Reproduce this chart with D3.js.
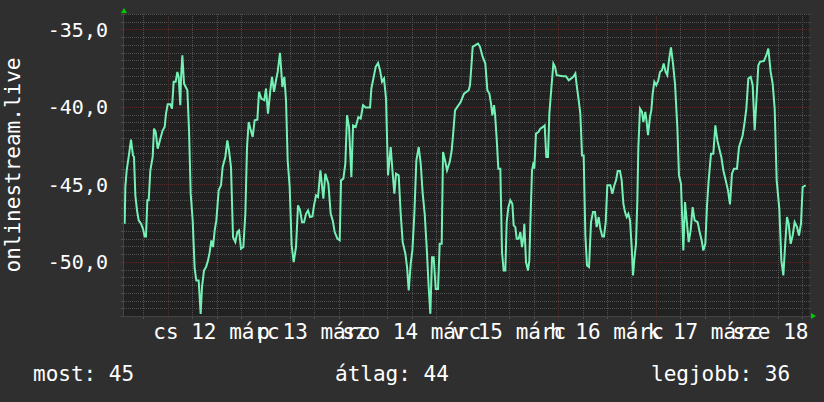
<!DOCTYPE html>
<html><head><meta charset="utf-8">
<script src="https://cdn.jsdelivr.net/npm/d3@7"></script>
<style>html,body{margin:0;padding:0;background:#2f2f2f;overflow:hidden}</style>
</head><body>
<script>
// hours relative to 2020-03-12 00:00 and values
const hours = [
-10.58,-10.42,-10.09,-9.60,-9.03,-8.54,-8.29,-7.96,-7.55,-7.14,-6.57,-6.08,-5.67,-5.34,-5.01,-4.68,-4.27,-3.70,-3.37,-2.96,-2.47,-2.22,-1.81,-1.24,-0.75,-0.42,-0.01,0.65,1.05,1.46,1.96,2.37,2.69,3.10,3.27,3.60,4.01,4.42,4.83,5.24,5.65,6.14,6.63,7.04,7.61,8.10,8.43,8.92,9.42,9.91,10.32,10.73,11.14,11.55,11.96,12.53,13.10,13.51,14.17,14.66,15.07,15.56,16.06,16.63,17.12,17.53,18.02,18.60,19.09,19.50,19.91,20.32,20.89,21.38,22.04,22.45,23.02,23.76,24.17,24.66,25.24,25.65,26.14,26.63,27.04,27.61,27.94,28.19,28.68,29.09,29.50,29.99,30.48,30.97,
31.55,32.04,32.54,33.03,33.52,34.01,34.50,34.99,35.57,35.98,36.47,36.96,37.54,38.27,38.76,39.50,40.08,40.57,41.06,41.72,42.29,42.62,43.19,43.68,44.09,44.58,45.16,45.57,46.22,46.88,47.45,48.03,48.68,49.75,50.08,50.57,51.14,51.72,52.21,52.70,53.19,53.68,54.17,54.83,55.32,55.73,56.14,56.80,57.29,57.78,58.44,58.85,59.26,59.75,60.16,60.65,61.14,61.72,62.21,62.70,63.19,63.68,64.17,64.58,64.99,65.40,65.90,66.47,66.88,67.37,67.70,68.19,68.68,69.34,69.83,70.16,70.65,71.22,72.04,72.86,
74.00,74.33,74.66,74.99,75.65,76.30,76.79,77.45,78.10,78.60,79.09,79.50,79.83,80.24,80.48,80.89,81.30,81.79,82.20,82.61,83.02,83.35,83.76,84.25,84.74,85.07,85.48,85.81,86.30,86.71,87.12,87.53,87.69,88.10,88.60,88.92,89.17,89.58,89.99,90.15,90.56,91.14,91.63,92.28,92.69,93.10,93.51,93.84,94.33,94.83,95.24,95.65,97.12,97.94,98.60,99.17,99.74,100.24,100.56,101.06,101.46,101.88,102.28,102.70,103.10,103.60,104.09,104.58,105.07,105.48,105.97,106.38,106.88,107.28,107.70,108.10,108.84,109.33,109.83,110.24,110.65,111.22,111.63,112.04,112.45,112.86,113.27,113.68,114.09,114.42,114.75,115.15,115.48,115.73,
116.13,116.62,116.95,117.44,117.77,118.10,118.59,118.92,119.25,119.66,120.15,120.64,121.05,121.54,121.95,122.44,122.85,123.26,123.75,124.25,124.74,125.31,125.72,126.21,126.79,127.20,127.69,128.10,128.59,129.08,129.57,130.31,130.80,131.30,131.70,132.20,132.61,133.02,133.59,134.16,134.66,135.15,135.72,136.13,136.62,137.20,137.77,138.26,138.75,139.25,139.98,140.48,140.89,141.38,141.87,142.28,142.77,143.35,143.84,144.33,144.74,145.23,145.64,146.62,147.20,147.69,148.26,148.75,149.25,149.74,150.39,150.89,151.38,151.79,152.28,152.69,153.18,153.67,154.16,154.74,155.23,155.72,156.13,156.87
];
const values = [
-47.54,-45.17,-44.09,-43.23,-42.11,-43.13,-43.23,-45.71,-46.68,-47.33,-47.54,-47.87,-48.36,-48.36,-46.03,-46.03,-44.09,-43.23,-41.40,-41.62,-42.69,-42.48,-42.05,-41.51,-41.29,-40.43,-39.83,-39.83,-40.11,-38.38,-38.38,-37.74,-38.06,-39.89,-38.17,-36.66,-38.49,-38.71,-38.92,-41.51,-45.60,-47.33,-50.45,-51.21,-51.21,-53.36,-51.64,-50.56,-50.34,-49.91,-49.38,-48.62,-49.05,-47.97,-47.33,-45.39,-45.06,-43.88,-43.23,-42.16,-42.80,-43.88,-48.41,-48.73,-48.08,-47.97,-49.16,-49.05,-46.90,-42.59,-40.97,-41.40,-41.94,-40.86,-40.82,-39.03,-39.46,-39.57,-38.81,-40.43,-38.92,-38.06,-39.03,-38.28,-37.74,-36.51,-37.74,-38.71,-38.06,-39.57,-43.45,-45.17,-48.94,-50.02,
-49.05,-46.36,-46.68,-47.44,-47.44,-46.90,-46.68,-47.11,-47.07,-46.36,-45.71,-45.82,-44.09,-45.93,-44.31,-44.96,-46.90,-47.33,-48.08,-48.51,-48.62,-44.74,-44.63,-43.66,-40.54,-41.29,-44.53,-41.19,-41.29,-40.65,-40.75,-39.89,-40.04,-40.04,-38.81,-38.17,-37.41,-37.16,-37.63,-38.38,-38.17,-39.46,-44.42,-42.59,-44.31,-45.60,-44.31,-44.42,-46.90,-48.73,-49.48,-50.34,-51.85,-50.13,-49.27,-46.90,-43.45,-42.59,-43.66,-45.60,-46.90,-49.05,-51.64,-53.36,-49.70,-49.70,-51.75,-51.75,-48.84,-48.84,-42.91,-43.45,-44.09,-43.56,-42.80,-41.83,-40.22,-40.00,-39.68,-39.14,
-38.92,-38.60,-37.41,-36.12,-36.01,-35.91,-36.12,-36.77,-37.20,-38.92,-39.14,-39.78,-40.54,-39.89,-40.43,-42.05,-43.99,-43.99,-49.38,-50.56,-50.56,-47.44,-46.47,-46.03,-46.25,-47.65,-47.76,-48.51,-48.51,-48.08,-49.05,-48.30,-47.54,-50.02,-50.56,-49.91,-47.54,-44.09,-43.56,-43.99,-41.72,-41.62,-41.40,-41.29,-41.19,-43.23,-43.23,-40.43,-38.81,-37.20,-37.41,-37.95,-38.02,-38.02,-38.28,-38.17,-38.06,-37.84,-38.60,-39.57,-40.43,-43.13,-43.13,-48.30,-50.24,-50.34,-47.44,-46.79,-46.79,-47.76,-47.11,-47.87,-48.36,-48.36,-47.44,-45.06,-45.06,-45.60,-45.06,-44.74,-44.14,-44.14,-44.74,-46.25,-46.79,-47.11,-46.90,-47.33,-49.05,-50.88,-49.81,-48.84,-46.03,-42.59,
-40.11,-40.32,-40.97,-40.32,-40.97,-41.83,-40.65,-40.22,-39.14,-38.38,-38.60,-38.28,-37.74,-37.63,-37.20,-37.74,-37.95,-36.98,-36.16,-37.20,-38.49,-41.29,-44.42,-44.96,-49.27,-46.14,-47.54,-48.73,-47.97,-46.47,-47.33,-47.44,-48.08,-48.62,-49.27,-48.84,-46.36,-44.74,-43.02,-43.02,-41.19,-42.16,-42.80,-43.23,-44.09,-44.74,-45.39,-46.29,-44.31,-43.99,-43.99,-42.59,-42.26,-41.83,-40.97,-40.11,-38.17,-38.06,-38.60,-41.51,-39.68,-37.31,-37.09,-37.03,-36.66,-36.23,-37.74,-38.49,-40.11,-44.74,-46.57,-49.91,-50.88,-49.05,-47.11,-47.54,-48.84,-48.30,-47.44,-47.76,-48.30,-47.54,-45.17,-45.06
];
const yTickValues = [-50, -45, -40, -35];
const yTickLabels = ["-50,0", "-45,0", "-40,0", "-35,0"];
const dayLabels = ["cs 12 márc", "p 13 márc", "szo 14 márc", "v 15 márc", "h 16 márc", "k 17 márc", "sze 18 márc"];
const legendLabels = ["most: 45", "átlag: 44", "legjobb: 36"];
const yTitle = "onlinestream.live";

const W = 824, H = 402;
const base = new Date(2020, 2, 12, 0, 0, 0);
const toDate = h => new Date(base.getTime() + h * 3600e3);
const plot = {l: 124, r: 809, t: 14, b: 316};
const x = d3.scaleTime().domain([toDate(-10.75), toDate(157.69)]).range([plot.l, plot.r]);
const y = d3.scaleLinear().domain([-53.5, -34]).range([plot.b, plot.t]);

const svg = d3.select("body").append("svg").attr("width", W).attr("height", H)
  .style("display", "block");
svg.append("rect").attr("width", W).attr("height", H).attr("fill", "#2f2f2f");
svg.append("rect").attr("x", plot.l).attr("y", plot.t).attr("width", plot.r - plot.l)
  .attr("height", plot.b - plot.t).attr("fill", "#212121");

const FONT = "'DejaVu Sans Mono', monospace";
const minorCol = "#505050", majorCol = "#5a2b2b";

// horizontal grid
const g = svg.append("g").attr("shape-rendering", "crispEdges");
const yMinor = d3.range(-53.5, -33.99, 0.5);
yMinor.forEach(v => {
  const major = Math.abs(v % 5) < 1e-6;
  const yy = Math.round(y(v)) + 0.5;
  g.append("line").attr("x1", plot.l).attr("x2", plot.r + 2).attr("y1", yy).attr("y2", yy)
    .attr("stroke", major ? majorCol : minorCol).attr("stroke-dasharray", "1,1");
  g.append("line").attr("x1", plot.l - 3).attr("x2", plot.l).attr("y1", yy).attr("y2", yy)
    .attr("stroke", major ? majorCol : minorCol);
});
// vertical grid
const xMinor = d3.timeHour.every(6).range(x.domain()[0], x.domain()[1]);
xMinor.forEach(t => {
  const major = t.getHours() === 0;
  const xx = Math.round(x(t)) + 0.5;
  g.append("line").attr("x1", xx).attr("x2", xx).attr("y1", plot.t).attr("y2", plot.b)
    .attr("stroke", major ? majorCol : minorCol).attr("stroke-dasharray", "1,1");
  g.append("line").attr("x1", xx).attr("x2", xx).attr("y1", plot.b).attr("y2", plot.b + 3)
    .attr("stroke", major ? majorCol : minorCol);
});
// axes
g.append("line").attr("x1", plot.l - 0.5).attr("x2", plot.l - 0.5).attr("y1", plot.t - 2).attr("y2", plot.b + 1)
  .attr("stroke", "#444444");
g.append("line").attr("x1", plot.l - 2).attr("x2", plot.r + 2).attr("y1", plot.b + 0.5).attr("y2", plot.b + 0.5)
  .attr("stroke", "#444444");

// arrows
svg.append("path").attr("d", `M${plot.l - 3},${plot.t - 1} L${plot.l + 3},${plot.t - 1} L${plot.l},${plot.t - 6} Z`).attr("fill", "#00cc00");
svg.append("path").attr("d", `M${plot.r + 2},${plot.b - 3} L${plot.r + 2},${plot.b + 3} L${plot.r + 7},${plot.b} Z`).attr("fill", "#00cc00");

// data line
svg.append("clipPath").attr("id", "clip").append("rect")
  .attr("x", plot.l).attr("y", plot.t - 2).attr("width", plot.r - plot.l).attr("height", plot.b - plot.t + 2);
const pts = hours.map((h, i) => [toDate(h), values[i]]);
svg.append("path").datum(pts).attr("clip-path", "url(#clip)")
  .attr("d", d3.line().x(d => x(d[0])).y(d => y(d[1])))
  .attr("fill", "none").attr("stroke", "#74f2b6").attr("stroke-width", 2).attr("stroke-linejoin", "miter");

// y labels
yTickValues.forEach((v, i) => {
  svg.append("text").attr("x", 108).attr("y", y(v)).attr("dy", "0.36em")
    .attr("text-anchor", "end").attr("fill", "#ffffff")
    .style("font-family", FONT).style("font-size", "20px").text(yTickLabels[i]);
});
// x labels at noon of each day (clipped at the canvas edge like the reference)
svg.append("clipPath").attr("id", "clipText").append("rect")
  .attr("x", 0).attr("y", 0).attr("width", 816).attr("height", H);
const xl = svg.append("g").attr("clip-path", "url(#clipText)");
dayLabels.forEach((lab, i) => {
  const t = toDate(12 + 24 * i);
  xl.append("text").attr("x", x(t)).attr("y", 339).attr("text-anchor", "middle")
    .attr("fill", "#ffffff").style("font-family", FONT).style("font-size", "21px").text(lab);
});
// y title
svg.append("text").attr("transform", `translate(20,${(plot.t + plot.b) / 2}) rotate(-90)`)
  .attr("text-anchor", "middle").attr("fill", "#ffffff")
  .style("font-family", FONT).style("font-size", "21px").text(yTitle);
// legend
const legX = [33, 335, 651];
legendLabels.forEach((lab, i) => {
  svg.append("text").attr("x", legX[i]).attr("y", 381).attr("fill", "#ffffff")
    .style("font-family", FONT).style("font-size", "21px").text(lab);
});
</script>
</body></html>
